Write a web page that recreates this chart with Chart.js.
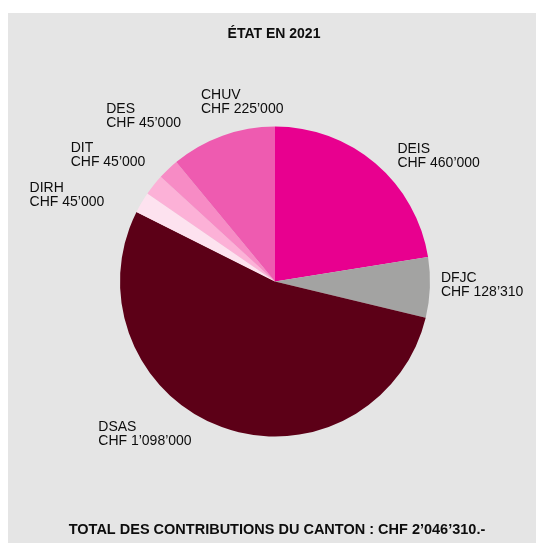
<!DOCTYPE html>
<html>
<head>
<meta charset="utf-8">
<script src="https://cdn.jsdelivr.net/npm/chart.js@4.4.0/dist/chart.umd.min.js"></script>
<style>
  html, body { margin: 0; padding: 0; background: #ffffff; }
  #wrap { position: relative; width: 537px; height: 543px; }
</style>
</head>
<body>
<div id="wrap"><canvas id="c"></canvas></div>
<script>
// ---- data ----
const categories = ['DEIS', 'DFJC', 'DSAS', 'DIRH', 'DIT', 'DES', 'CHUV'];
const contributions = [460000, 128310, 1098000, 45000, 45000, 45000, 225000];
const sliceColors = ['#e8008f', '#a3a3a2', '#5c0017', '#fde2ef', '#fcb1d7', '#f78bc5', '#ee5bb0'];
const titleText = 'ÉTAT EN 2021';
const footerPrefix = 'TOTAL DES CONTRIBUTIONS DU CANTON : CHF ';

// ---- label layout tweaks (offsets from arc-derived anchor) ----
const labelNudge = [[14, 2], [-1, -3], [-26, -4], [-27, -1], [1, -22], [21, -44], [65, -22]];
const labelGap = 12;
const lineH = 14;
const FONT = '"Liberation Sans", Arial, Helvetica, sans-serif';

function fmt(v) {
  return String(v).replace(/\B(?=(\d{3})+(?!\d))/g, '\u2019');
}
const total = contributions.reduce((a, b) => a + b, 0);

const panelPlugin = {
  id: 'panel',
  beforeDraw(chart) {
    const ctx = chart.ctx;
    ctx.save();
    ctx.fillStyle = '#ffffff';
    ctx.fillRect(0, 0, chart.width, chart.height);
    ctx.fillStyle = '#e5e5e5';
    ctx.fillRect(8, 13, chart.width - 9, chart.height - 13);
    ctx.restore();
  },
  afterDraw(chart) {
    const ctx = chart.ctx;
    ctx.save();
    ctx.fillStyle = '#0d0d0d';
    ctx.textBaseline = 'middle';
    ctx.textAlign = 'center';
    ctx.font = 'bold 14px ' + FONT;
    ctx.fillText(titleText, 274, 34);
    ctx.font = 'bold 14.5px ' + FONT;
    ctx.fillText(footerPrefix + fmt(total) + '.-', 277, 530);
    ctx.restore();
  }
};

const labelPlugin = {
  id: 'sliceLabels',
  afterDatasetsDraw(chart) {
    const ctx = chart.ctx;
    const meta = chart.getDatasetMeta(0);
    ctx.save();
    ctx.font = '14px ' + FONT;
    ctx.fillStyle = '#0d0d0d';
    ctx.textBaseline = 'middle';
    ctx.textAlign = 'left';
    meta.data.forEach((arc, i) => {
      const p = arc.getProps(['x', 'y', 'startAngle', 'endAngle', 'outerRadius'], true);
      const mid = (p.startAngle + p.endAngle) / 2;
      const r = p.outerRadius + labelGap;
      const ax = p.x + Math.cos(mid) * r;
      const ay = p.y + Math.sin(mid) * r;
      const lines = [categories[i], 'CHF ' + fmt(contributions[i])];
      const w = Math.max(...lines.map(l => ctx.measureText(l).width));
      const left = (Math.cos(mid) >= 0 ? ax : ax - w) + labelNudge[i][0];
      const cy = ay + labelNudge[i][1];
      ctx.fillText(lines[0], left, cy - lineH / 2);
      ctx.fillText(lines[1], left, cy + lineH / 2);
    });
    ctx.restore();
  }
};

new Chart(document.getElementById('c'), {
  type: 'pie',
  data: {
    labels: categories,
    datasets: [{
      data: contributions,
      backgroundColor: sliceColors,
      borderWidth: 0,
      hoverOffset: 0
    }]
  },
  options: {
    responsive: true,
    maintainAspectRatio: false,
    animation: false,
    layout: { padding: { left: 120, right: 107, top: 126.5, bottom: 106.5 } },
    plugins: {
      legend: { display: false },
      tooltip: { enabled: false },
      title: { display: false }
    }
  },
  plugins: [panelPlugin, labelPlugin]
});
</script>
</body>
</html>
